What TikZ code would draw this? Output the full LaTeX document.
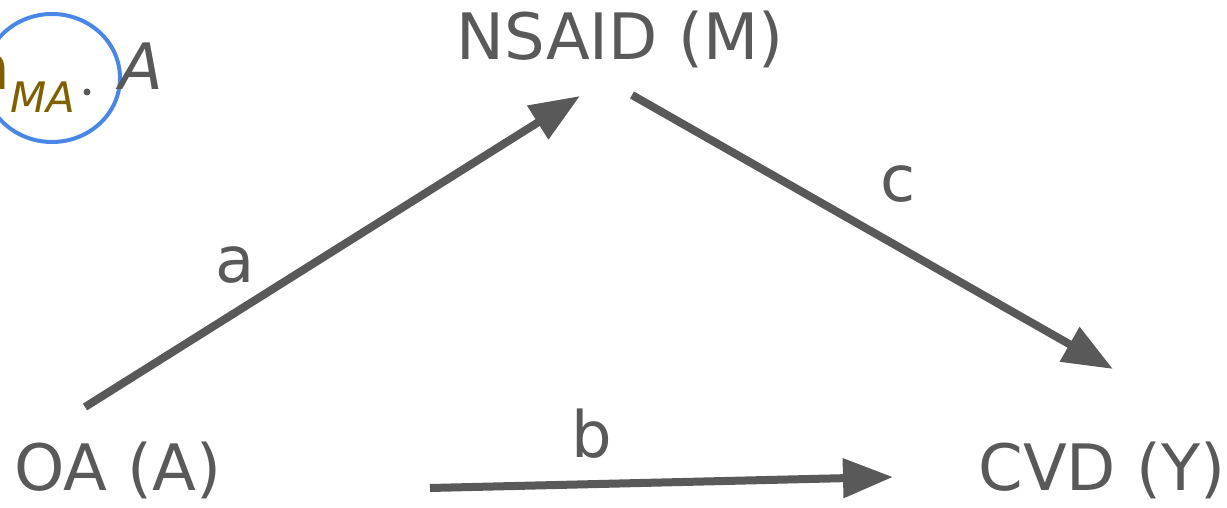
\documentclass[tikz,border=0pt]{standalone}
\usepackage{fontspec}
\setmainfont{DejaVu Sans}
\usetikzlibrary{arrows.meta,shapes.geometric}
\definecolor{ink}{HTML}{595959}
\definecolor{umber}{HTML}{7F6000}
\definecolor{ring}{HTML}{4A86E8}
\tikzset{
  varlabel/.style={text=ink, font=\fontsize{32}{38}\selectfont, inner sep=0pt},
  pathlabel/.style={text=ink, font=\fontsize{32}{38}\selectfont, inner sep=0pt},
  effect/.style={draw=ink, line width=4pt,
    -{Triangle[length=25pt,width=19pt]}},
}
\begin{document}
\begin{tikzpicture}[x=0.5pt,y=-0.5pt]
  \useasboundingbox (0,0) rectangle (1227,508);
  \clip (0,0) rectangle (1227,508);

  % variables
  \node[varlabel, anchor=base] (M) at (620,60) {NSAID (M)};
  \node[varlabel, anchor=base] (A) at (118,490) {OA (A)};
  \node[varlabel, anchor=base] (Y) at (1102,490) {CVD (Y)};

  % arrow end points
  \coordinate (a0) at (85,407);
  \coordinate (a1) at (580,96);
  \coordinate (c0) at (632,95);
  \coordinate (c1) at (1113,369);
  \coordinate (b0) at (430,488);
  \coordinate (b1) at (893,477);

  \draw[effect] (a0) -- (a1);
  \draw[effect] (c0) -- (c1);
  \draw[effect] (b0) -- (b1);

  % path labels
  \node[pathlabel] (la) at (235,265) {a};
  \node[pathlabel] (lc) at (898,184) {c};
  \node[pathlabel] (lb) at (592,434) {b};

  % indirect-effect annotation
  \node[draw=ring, line width=2pt, ellipse, inner sep=0pt,
        minimum width=68pt, minimum height=64pt] (ring) at (52,78) {};
  \node[text=umber, font=\fontsize{32}{38}\selectfont, inner sep=0pt, anchor=base east]
    (amA) at (76,90) {a\raisebox{-0.35em}{\fontsize{21}{26}\selectfont\itshape MA}};
  \fill[ink] (87,92) circle (3.5);
  \node[text=ink, font=\fontsize{32}{38}\selectfont\itshape, inner sep=0pt, anchor=base west]
    (aA) at (119,90) {A};
\end{tikzpicture}
\end{document}
